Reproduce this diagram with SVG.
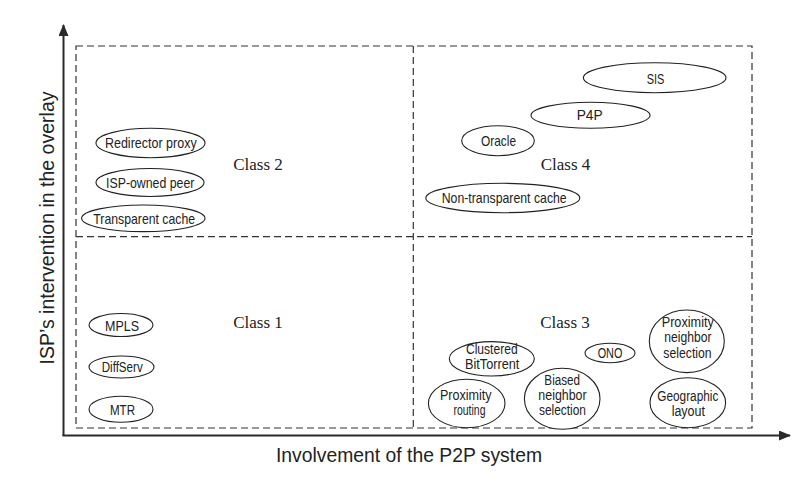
<svg xmlns="http://www.w3.org/2000/svg" width="810" height="482" viewBox="0 0 810 482">
<style>
.bg{fill:#ffffff}
.dash{fill:none;stroke:#333;stroke-width:1.2;stroke-dasharray:7 4}
.axis{fill:none;stroke:#2a2a2a;stroke-width:2}
.ell{fill:#ffffff;stroke:#222;stroke-width:1.1}
.lbl{font-family:"Liberation Sans",Arial,sans-serif;font-size:14px;fill:#222;text-anchor:middle}
.big{font-size:14.5px}
.cls{font-family:"Liberation Serif","Times New Roman",serif;font-size:17px;fill:#222;text-anchor:middle}
.ax{font-family:"Liberation Sans",Arial,sans-serif;font-size:19.3px;fill:#222;text-anchor:middle}
</style>
<defs>
<marker id="arr" viewBox="0 0 12 10" refX="11" refY="5" markerWidth="12" markerHeight="10" markerUnits="userSpaceOnUse" orient="auto">
<path d="M0,0 L12,5 L0,10 Z" fill="#2a2a2a"/>
</marker>
</defs>
<rect class="bg" x="0" y="0" width="810" height="482"/>
<g id="quadrants">
<rect class="dash" x="76" y="46" width="676" height="382"/>
<line class="dash" x1="413.3" y1="46" x2="413.3" y2="428"/>
<line class="dash" x1="76" y1="236.7" x2="752" y2="236.7"/>
</g>
<g id="connectors">
<line class="axis" x1="63.5" y1="436" x2="63.5" y2="25" marker-end="url(#arr)"/>
<line class="axis" x1="62.5" y1="435.5" x2="790" y2="435.5" marker-end="url(#arr)"/>
</g>
<g id="axis-labels">
<text class="ax" transform="translate(54,228) rotate(-90)" textLength="273" lengthAdjust="spacingAndGlyphs">ISP’s intervention in the overlay</text>
<text class="ax" x="409" y="461.7" textLength="266" lengthAdjust="spacingAndGlyphs">Involvement of the P2P system</text>
</g>
<g id="class-labels">
<text class="cls" x="258" y="170">Class 2</text>
<text class="cls" x="565.5" y="170">Class 4</text>
<text class="cls" x="258" y="328.3">Class 1</text>
<text class="cls" x="565" y="328.3">Class 3</text>
</g>
<g id="redirector-proxy"><ellipse class="ell" cx="150.5" cy="143" rx="54.5" ry="14.7"/><text class="lbl big" x="150.8" y="147.8" textLength="91.7" lengthAdjust="spacingAndGlyphs">Redirector proxy</text></g>
<g id="isp-owned-peer"><ellipse class="ell" cx="150" cy="182.5" rx="54" ry="14"/><text class="lbl big" x="150.2" y="187.8" textLength="88.3" lengthAdjust="spacingAndGlyphs">ISP-owned peer</text></g>
<g id="transparent-cache"><ellipse class="ell" cx="143.3" cy="218.3" rx="61.7" ry="13.3"/><text class="lbl big" x="144.2" y="223.8" textLength="101.7" lengthAdjust="spacingAndGlyphs">Transparent cache</text></g>
<g id="sis"><ellipse class="ell" cx="654.7" cy="77.7" rx="71.3" ry="15"/><text class="lbl big" x="655.5" y="84" textLength="17.7" lengthAdjust="spacingAndGlyphs">SIS</text></g>
<g id="p4p"><ellipse class="ell" cx="590.5" cy="115.3" rx="59.5" ry="13"/><text class="lbl big" x="589.7" y="120.3" textLength="26" lengthAdjust="spacingAndGlyphs">P4P</text></g>
<g id="oracle"><ellipse class="ell" cx="498" cy="140.7" rx="36.3" ry="15"/><text class="lbl big" x="498.5" y="145.8" textLength="35" lengthAdjust="spacingAndGlyphs">Oracle</text></g>
<g id="non-transparent-cache"><ellipse class="ell" cx="502.8" cy="198" rx="77" ry="14.7"/><text class="lbl big" x="504.2" y="202.8" textLength="125" lengthAdjust="spacingAndGlyphs">Non-transparent cache</text></g>
<g id="mpls"><ellipse class="ell" cx="121" cy="325" rx="32" ry="11.5"/><text class="lbl big" x="122" y="331.2" textLength="34" lengthAdjust="spacingAndGlyphs">MPLS</text></g>
<g id="diffserv"><ellipse class="ell" cx="121.5" cy="367" rx="32.5" ry="11"/><text class="lbl big" x="122.2" y="371.7" textLength="41" lengthAdjust="spacingAndGlyphs">DiffServ</text></g>
<g id="mtr"><ellipse class="ell" cx="121" cy="409.3" rx="32" ry="13"/><text class="lbl big" x="122.5" y="414.5" textLength="25" lengthAdjust="spacingAndGlyphs">MTR</text></g>
<g id="clustered-bittorrent"><ellipse class="ell" cx="491.8" cy="358.8" rx="42.5" ry="17.2"/><text class="lbl" x="491.8" y="353.5" textLength="51.7" lengthAdjust="spacingAndGlyphs">Clustered</text><text class="lbl" x="492.2" y="368.5" textLength="54.3" lengthAdjust="spacingAndGlyphs">BitTorrent</text></g>
<g id="ono"><ellipse class="ell" cx="610" cy="353" rx="25" ry="9.7"/><text class="lbl big" x="610" y="358" textLength="24.7" lengthAdjust="spacingAndGlyphs">ONO</text></g>
<g id="proximity-neighbor-selection"><ellipse class="ell" cx="686.8" cy="341.3" rx="37.5" ry="31.3"/><text class="lbl" x="687.8" y="327" textLength="52.3" lengthAdjust="spacingAndGlyphs">Proximity</text><text class="lbl" x="688" y="342" textLength="47.3" lengthAdjust="spacingAndGlyphs">neighbor</text><text class="lbl" x="687.5" y="357.7" textLength="48.3" lengthAdjust="spacingAndGlyphs">selection</text></g>
<g id="proximity-routing"><ellipse class="ell" cx="466.7" cy="403.5" rx="38.3" ry="24.2"/><text class="lbl" x="465.8" y="400.3" textLength="51.7" lengthAdjust="spacingAndGlyphs">Proximity</text><text class="lbl" x="469.5" y="415.3" textLength="32" lengthAdjust="spacingAndGlyphs">routing</text></g>
<g id="biased-neighbor-selection"><ellipse class="ell" cx="562.2" cy="398.8" rx="37.8" ry="30.5"/><text class="lbl" x="562.2" y="385.3" textLength="35.7" lengthAdjust="spacingAndGlyphs">Biased</text><text class="lbl" x="562.5" y="400.3" textLength="48.3" lengthAdjust="spacingAndGlyphs">neighbor</text><text class="lbl" x="562.5" y="415.3" textLength="47" lengthAdjust="spacingAndGlyphs">selection</text></g>
<g id="geographic-layout"><ellipse class="ell" cx="687.8" cy="402.7" rx="37.8" ry="25"/><text class="lbl" x="687.8" y="401" textLength="61" lengthAdjust="spacingAndGlyphs">Geographic</text><text class="lbl" x="688.3" y="416.3" textLength="33.3" lengthAdjust="spacingAndGlyphs">layout</text></g>
</svg>
